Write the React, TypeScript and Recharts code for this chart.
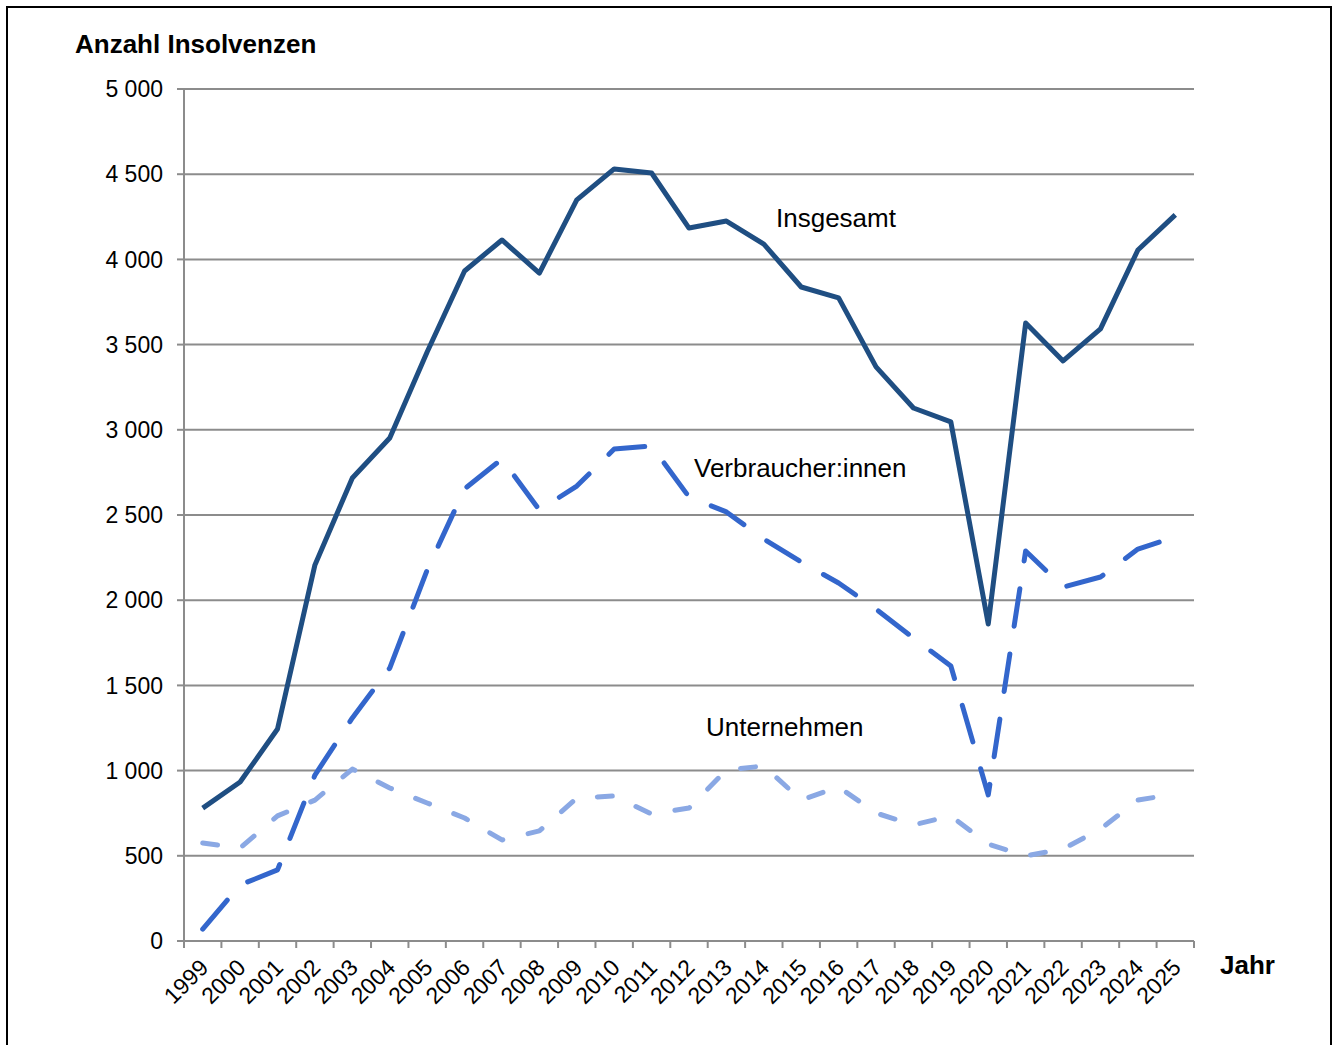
import { LineChart, Line, XAxis, YAxis, CartesianGrid } from 'recharts';

// Jahre und Werte
const years = [
  '1999', '2000', '2001', '2002', '2003', '2004', '2005', '2006', '2007',
  '2008', '2009', '2010', '2011', '2012', '2013', '2014', '2015', '2016',
  '2017', '2018', '2019', '2020', '2021', '2022', '2023', '2024', '2025',
];
const insgesamt = [
  780, 933, 1244, 2207, 2717, 2952, 3457, 3932, 4114, 3920, 4349, 4531, 4507,
  4184, 4225, 4090, 3838, 3774, 3369, 3128, 3046, 1860, 3627, 3404, 3592, 4055, 4261,
];
const verbraucher = [
  70, 329, 417, 974, 1309, 1602, 2177, 2653, 2829, 2529, 2670, 2887, 2905,
  2606, 2518, 2359, 2224, 2101, 1948, 1778, 1614, 857, 2289, 2077, 2136, 2300, 2371,
];
const unternehmen = [
  575, 546, 734, 827, 1009, 898, 810, 722, 593, 646, 839, 851, 745,
  780, 1004, 1027, 827, 904, 751, 681, 734, 569, 499, 540, 657, 827, 863,
];
const yTicks = [0, 500, 1000, 1500, 2000, 2500, 3000, 3500, 4000, 4500, 5000];

const data = years.map((year, i) => ({
  year,
  insgesamt: insgesamt[i],
  verbraucher: verbraucher[i],
  unternehmen: unternehmen[i],
}));

const FONT = 'Arial, "Liberation Sans", sans-serif';
const AXIS_GRAY = '#8c8c8c';
const BAND = 1010 / years.length;

const formatThousands = (v: number) =>
  v >= 1000 ? `${Math.floor(v / 1000)} ${String(v % 1000).padStart(3, '0')}` : String(v);

// x ticks: marks on band edges, rotated labels
const YearTick = ({ x, y, payload, index }: any) => {
  const left = x - BAND / 2;
  const tx = x + 7;
  const ty = y + 28;
  return (
    <g>
      <line x1={left} y1={y} x2={left} y2={y + 7} stroke={AXIS_GRAY} strokeWidth={2} />
      {index === years.length - 1 && (
        <line x1={x + BAND / 2} y1={y} x2={x + BAND / 2} y2={y + 7} stroke={AXIS_GRAY} strokeWidth={2} />
      )}
      <text
        x={tx}
        y={ty}
        textAnchor="end"
        transform={`rotate(-45, ${tx}, ${ty})`}
        fontSize={23}
        fontFamily={FONT}
        fill="#000"
      >
        {payload.value}
      </text>
    </g>
  );
};

export default function App() {
  return (
    <div style={{ position: 'absolute', left: 0, top: 0, width: 1333, height: 1045, overflow: 'hidden', background: '#fff' }}>
      <div
        style={{
          position: 'absolute',
          left: 6,
          top: 6,
          width: 1322,
          height: 1100,
          border: '2px solid #000',
        }}
      />
      <div style={{ position: 'absolute', left: 0, top: 0 }}>
        <LineChart
          width={1333}
          height={1045}
          data={data}
          margin={{ top: 89, right: 139, left: 100, bottom: 44 }}
        >
          <CartesianGrid vertical={false} stroke={AXIS_GRAY} strokeWidth={2} />
          <XAxis
            dataKey="year"
            interval={0}
            height={60}
            padding={{ left: BAND / 2, right: BAND / 2 }}
            axisLine={{ stroke: AXIS_GRAY, strokeWidth: 2 }}
            tickLine={false}
            tickSize={0}
            tickMargin={0}
            tick={<YearTick />}
          />
          <YAxis
            width={84}
            domain={[0, 5000]}
            ticks={yTicks}
            interval={0}
            tickFormatter={formatThousands}
            axisLine={{ stroke: AXIS_GRAY, strokeWidth: 2 }}
            tickLine={{ stroke: AXIS_GRAY, strokeWidth: 2 }}
            tickSize={7}
            tickMargin={14}
            tick={{ fill: '#000', fontSize: 23, fontFamily: FONT }}
          />
          <Line
            dataKey="unternehmen"
            stroke="#8aa8e4"
            strokeWidth={5}
            strokeDasharray="15 26"
            strokeLinecap="round"
            strokeLinejoin="round"
            dot={false}
            isAnimationActive={false}
          />
          <Line
            dataKey="verbraucher"
            stroke="#3366cc"
            strokeWidth={5}
            strokeDasharray="38 28"
            strokeLinecap="round"
            strokeLinejoin="round"
            dot={false}
            isAnimationActive={false}
          />
          <Line
            dataKey="insgesamt"
            stroke="#1f4e82"
            strokeWidth={5}
            strokeLinejoin="round"
            dot={false}
            isAnimationActive={false}
          />
        </LineChart>
      </div>
      <svg
        width={1333}
        height={1045}
        style={{ position: 'absolute', left: 0, top: 0, pointerEvents: 'none' }}
        fontFamily={FONT}
      >
        <text x={75} y={53} fontSize={26} fontWeight="bold" fill="#000">Anzahl Insolvenzen</text>
        <text x={1220} y={974} fontSize={26} fontWeight="bold" fill="#000">Jahr</text>
        <text x={776} y={227} fontSize={26} fill="#000">Insgesamt</text>
        <text x={694} y={477} fontSize={26} fill="#000">Verbraucher:innen</text>
        <text x={706} y={736} fontSize={26} fill="#000">Unternehmen</text>
      </svg>
    </div>
  );
}
